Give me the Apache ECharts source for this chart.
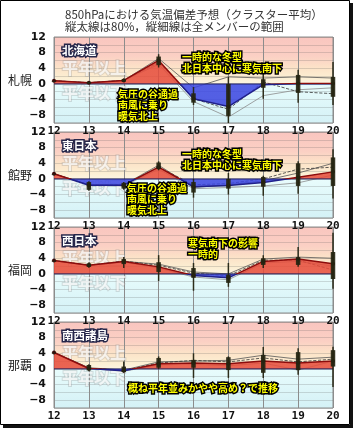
<!DOCTYPE html>
<html><head><meta charset="utf-8">
<script src="https://cdn.jsdelivr.net/npm/echarts@6/dist/echarts.min.js"></script>
<style>html,body{margin:0;padding:0;background:#fff}#chart{width:354px;height:431px}</style>
</head><body><div id="chart"></div>
<script>
const days = [12, 13, 14, 15, 16, 17, 18, 19, 20];
const stations = ['札幌', '館野', '福岡', '那覇'];
const regions = ['北海道', '東日本', '西日本', '南西諸島'];
const yLabels = [12, 8, 4, 0, -4, -8];

// cluster mean anomaly
const sapporoMean = [0.8, 0.3, 0.9, 6.0, -3.8, -5.8, -0.2, 0.1, 0.1];
const tatenoMean = [1.3, -1.6, -1.6, 3.0, -2.0, -1.7, -0.9, 0.4, 1.8];
const fukuokaMean = [3.4, 2.2, 3.2, 1.8, -0.4, -1.0, 3.2, 3.8, 2.6];
const nahaMean = [4.2, 0.1, -0.5, 1.3, 1.5, 1.3, 2.0, 1.5, 2.0];

// [80% low, 80% high, all low, all high]
const sapporoRange = [[0.8, 0.8, 0.8, 0.8], [0.1, 0.5, 0, 0.6], [0.6, 1.2, 0.5, 1.4], [4.8, 7.0, 4.2, 7.6], [-4.8, -2.4, -5.4, -0.8], [-8.2, 0, -10, 1.8], [-1.0, 1.2, -3.8, 2.6], [-2.3, 2.3, -4.8, 3.6], [-3.3, 1.8, -5.4, 5.6]];
const tatenoRange = [[1.3, 1.3, 1.3, 1.3], [-2.8, -0.8, -3.0, -0.6], [-2.5, -1.0, -2.8, -0.8], [2.5, 4.2, 2.2, 4.5], [-3.5, -0.8, -4.8, 0], [-2.5, 0, -4.0, 1.5], [-2.0, 0.5, -4.3, 0.8], [-1.8, 4.0, -3.8, 4.5], [-1.8, 5.5, -5.0, 7.6]];
const fukuokaRange = [[3.4, 3.4, 3.4, 3.4], [1.8, 2.7, 1.6, 2.9], [2.5, 3.8, 1.5, 4.3], [0.5, 3.0, -1.8, 4.8], [-1.0, 1.5, -4.3, 2.8], [-2.3, -0.2, -3.3, 2.8], [2.3, 4.0, 1.5, 4.8], [2.3, 4.3, 1.8, 6.9], [-1.3, 5.6, -3.8, 10.5]];
const nahaRange = [[4.2, 4.2, 4.2, 4.2], [-0.4, 1.0, -0.6, 1.2], [-0.8, 0.6, -1.0, 1.9], [0.3, 2.8, 0, 3.2], [0.3, 2.3, -2.3, 4.0], [-0.3, 3.0, -2.3, 3.2], [-1.0, 3.6, -2.3, 5.6], [-0.3, 4.3, -1.5, 5.3], [0.6, 4.8, -4.6, 5.7]];

// a few member runs
const sapporoMembers = [
  [0.8, 0.3, 0.9, 6.5, -1.0, 1.8, 1.5, 1.8, 1.5],
  [0.8, 0.3, 0.9, 5.0, -4.5, -8.5, -3.0, -1.5, -1.0],
  [0.8, 0.3, 0.9, 5.5, -3.8, -6.5, 0.5, -2.0, -2.5]
];
const tatenoMembers = [
  [1.3, -1.5, -1.5, 3.5, -2.2, -1.5, -0.5, 1.5, 4.0],
  [1.3, -1.5, -1.8, 2.5, -2.5, -2.2, -1.8, -1.0, 1.0],
  [1.3, -1.5, -1.5, 3.0, -1.5, -1.2, 0, 2.5, 3.0]
];
const fukuokaMembers = [
  [3.4, 2.2, 3.2, 2.5, 0.5, 0, 3.8, 4.3, 4.0],
  [3.4, 2.2, 3.0, 1.5, -0.8, -1.5, 2.8, 3.2, 2.0],
  [3.4, 2.2, 3.3, 2.2, 0.2, -0.5, 3.5, 3.5, 1.0]
];
const nahaMembers = [
  [4.2, 0.3, -0.3, 1.8, 2.0, 2.2, 3.5, 2.5, 3.0],
  [4.2, 0.1, -0.6, 1.0, 1.2, 0.8, 1.5, -0.3, 2.0],
  [4.2, 0.2, -0.4, 1.5, 2.2, 1.8, 2.8, 1.8, 2.5]
];

const means = [sapporoMean, tatenoMean, fukuokaMean, nahaMean];
const ranges = [sapporoRange, tatenoRange, fukuokaRange, nahaRange];
const members = [sapporoMembers, tatenoMembers, fukuokaMembers, nahaMembers];

const notes = [
  [['一時的な冬型', 182, 57], ['北日本中心に寒気南下', 182, 68], ['気圧の谷通過', 118, 94], ['南風に乗り', 118, 105], ['暖気北上', 118, 116]],
  [['一時的な冬型', 182, 154], ['北日本中心に寒気南下', 182, 165], ['気圧の谷通過', 127, 188], ['南風に乗り', 127, 199], ['暖気北上', 127, 210]],
  [['寒気南下の影響', 188, 243], ['一時的', 188, 254]],
  [['概ね平年並みかやや高め？で推移', 128, 388]]
];

const YMIN = -10, YMAX = 12;
const off = v => (YMAX - v) / (YMAX - YMIN);
const bg = new echarts.graphic.LinearGradient(0, 0, 0, 1, [
  { offset: 0, color: '#f9c5bf' },
  { offset: off(7), color: '#fbd0c4' },
  { offset: off(4), color: '#fce3c8' },
  { offset: off(1.5), color: '#fcefd3' },
  { offset: off(0), color: '#fcf5e2' },
  { offset: off(-0.01), color: '#e8fcfc' },
  { offset: 1, color: '#d4f1f6' }
]);
// red above zero, blue below, split at the zero line of the grid
const split = (top, h, up, down) => new echarts.graphic.LinearGradient(0, top, 0, top + h, [
  { offset: 0, color: up }, { offset: off(0), color: up },
  { offset: off(0), color: down }, { offset: 1, color: down }
], true);

const chart = echarts.init(document.getElementById('chart'));
const tops = [37, 132, 227, 322];
const H = 86;
const grid = [], xAxis = [], yAxis = [], series = [], graphic = [];
const memberStyle = [['#555', 'solid'], ['#8a8a8a', 'solid'], ['#333', 'dashed']];

tops.forEach((top, p) => {
  grid.push({ left: 54, width: 279, top: top, height: H, show: true, backgroundColor: bg, borderColor: '#8c8c8c', borderWidth: 1 });
  xAxis.push({
    gridIndex: p, type: 'value', min: 12, max: 20, interval: 1,
    axisLine: { show: false }, axisTick: { show: false },
    axisLabel: { margin: 3, fontSize: 11, fontWeight: 'bold', fontFamily: 'DejaVu Sans Mono', color: '#111' },
    splitLine: { show: true, lineStyle: { color: '#8c8c8c', width: 1 } }
  });
  yAxis.push({
    gridIndex: p, type: 'value', min: YMIN, max: YMAX, interval: 2,
    axisLine: { show: false }, axisTick: { show: false },
    axisLabel: {
      margin: 8, fontSize: 11, fontWeight: 'bold', fontFamily: 'DejaVu Sans', color: '#111',
      formatter: v => yLabels.includes(v) ? String(v).replace('-', '−') : ''
    },
    splitLine: { show: true, lineStyle: { color: 'rgba(90,90,90,0.22)', width: 1 } }
  });

  members[p].forEach((m, k) => {
    series.push({
      type: 'line', xAxisIndex: p, yAxisIndex: p, silent: true, symbol: 'none', z: 2,
      data: days.map((d, i) => [d, m[i]]),
      lineStyle: { color: memberStyle[k][0], width: 0.8, type: memberStyle[k][1] }
    });
  });

  const meanData = days.map((d, i) => [d, means[p][i]]);
  series.push({
    type: 'line', xAxisIndex: p, yAxisIndex: p, silent: true, showSymbol: false, z: 3,
    data: meanData, lineStyle: { width: 0 },
    areaStyle: { color: split(top, H, '#e64b3a', '#3a44e0'), opacity: 0.85, origin: 0 }
  });
  // zero line
  series.push({
    type: 'line', xAxisIndex: p, yAxisIndex: p, silent: true, symbol: 'none', z: 3,
    data: [[days[0], 0], [days[days.length - 1], 0]],
    lineStyle: { color: '#1e1e5a', width: 1 }
  });
  series.push({
    type: 'line', xAxisIndex: p, yAxisIndex: p, silent: true, symbol: 'circle', symbolSize: 4, z: 4,
    data: meanData, itemStyle: { color: '#3a0a0a' },
    lineStyle: { width: 1.5, color: split(top, H, '#8c0c0c', '#20208a') }
  });

  series.push({
    type: 'custom', xAxisIndex: p, yAxisIndex: p, silent: true, z: 5,
    data: days.map((d, i) => [d].concat(ranges[p][i])),
    renderItem: (params, api) => {
      const x = api.value(0);
      const hi = api.coord([x, api.value(4)]), lo = api.coord([x, api.value(3)]);
      const bHi = api.coord([x, api.value(2)]), bLo = api.coord([x, api.value(1)]);
      return {
        type: 'group', children: [
          { type: 'rect', shape: { x: hi[0] - 0.75, y: hi[1], width: 1.5, height: lo[1] - hi[1] }, style: { fill: '#242410', opacity: 0.92 } },
          { type: 'rect', shape: { x: bHi[0] - 2.25, y: bHi[1], width: 4.5, height: Math.max(bLo[1] - bHi[1], 1) }, style: { fill: '#242410', opacity: 0.92 } }
        ]
      };
    }
  });

  const ghost = { font: 'bold 16px "Noto Sans CJK JP"', fill: 'rgba(255,255,255,0.7)', stroke: 'rgba(150,150,150,0.3)', lineWidth: 2, verticalAlign: 'middle' };
  graphic.push({ type: 'text', x: 8, y: top + 43, style: { text: stations[p], font: '12px "Noto Sans CJK JP"', fill: '#222', verticalAlign: 'middle' } });
  graphic.push({ type: 'text', x: 62, y: top + 31, z: 1, style: Object.assign({ text: '平年以上' }, ghost) });
  graphic.push({ type: 'text', x: 62, y: top + 56, z: 1, style: Object.assign({ text: '平年以下' }, ghost) });
  graphic.push({ type: 'text', x: 62, y: top + 14, z: 30, style: { text: regions[p], font: 'bold 11.5px "Noto Sans CJK JP"', fill: '#fff', stroke: '#26264a', lineWidth: 3, verticalAlign: 'middle', shadowColor: 'rgba(0,0,0,0.5)', shadowOffsetX: 1, shadowOffsetY: 1, shadowBlur: 2 } });
  notes[p].forEach(n => {
    graphic.push({ type: 'text', x: n[1], y: n[2], z: 40, style: { text: n[0], font: 'bold 10px "Noto Sans CJK JP"', fill: '#ffff00', stroke: '#000', lineWidth: 3, verticalAlign: 'middle' } });
  });
});

graphic.push({ type: 'text', x: 65, y: 15, style: { text: '850hPaにおける気温偏差予想（クラスター平均）', font: '11.5px "Noto Sans CJK JP"', fill: '#333', verticalAlign: 'middle' } });
graphic.push({ type: 'text', x: 65, y: 27, style: { text: '縦太線は80%，縦細線は全メンバーの範囲', font: '11.5px "Noto Sans CJK JP"', fill: '#333', verticalAlign: 'middle' } });
graphic.push({ type: 'rect', shape: { x: 0.5, y: 0.5, width: 349, height: 424 }, style: { fill: 'none', stroke: '#000', lineWidth: 1 } });
graphic.push({ type: 'rect', shape: { x: 350, y: 3, width: 3, height: 425 }, style: { fill: '#111' } });
graphic.push({ type: 'rect', shape: { x: 3, y: 425, width: 350, height: 3 }, style: { fill: '#111' } });

chart.setOption({
  animation: false,
  grid, xAxis, yAxis, series,
  graphic: { elements: graphic }
});
</script>
</body></html>
